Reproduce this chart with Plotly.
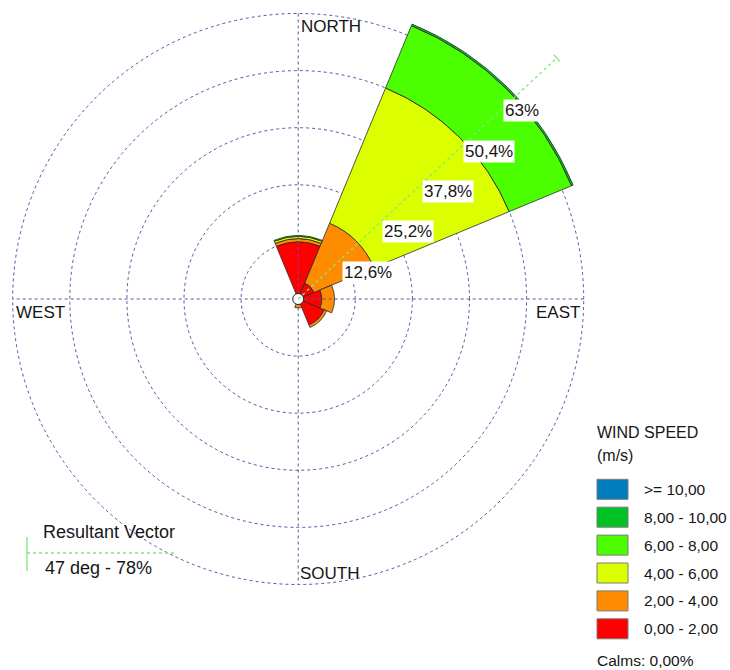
import math
import plotly.graph_objects as go

W, H = 730, 670

# ---- data ---------------------------------------------------------------
dir_names = ["N", "NE", "E", "SE", "S", "SW", "W", "NW"]
dir_angles = [0, 45, 90, 135, 180, 225, 270, 315]

speed_classes = ["0,00 - 2,00", "2,00 - 4,00", "4,00 - 6,00",
                 "6,00 - 8,00", "8,00 - 10,00", ">= 10,00"]
class_colors = ["#ff0000", "#ff8c00", "#dcff00", "#4cff00", "#00c224", "#007dbc"]

# frequency (%) of each speed class per direction
freq_0_2 = [12.6, 3.8, 5.2, 6.2, 1.2, 0, 0, 0]
freq_2_4 = [0.7, 14.3, 2.8, 0.6, 0.8, 0, 0, 0]
freq_4_6 = [0.5, 32.3, 0, 0, 0, 0, 0, 0]
freq_6_8 = [0.2, 14.9, 0, 0, 0, 0, 0, 0]
freq_8_10 = [0, 0.4, 0, 0, 0, 0, 0, 0]
freq_10_up = [0, 0, 0, 0, 0, 0, 0, 0]

ring_values = [12.6, 25.2, 37.8, 50.4, 63]
ring_labels = ["12,6%", "25,2%", "37,8%", "50,4%", "63%"]

resultant_dir = 47      # degrees
resultant_pct = 78      # %
calms_text = "Calms: 0,00%"

# ---- geometry of the rose -----------------------------------------------
R_MAX = 65.8
PX_PER_PCT = 285.5 / 63
rad_px = R_MAX * PX_PER_PCT
cx, cy = rad_px, 299.0
dom_x = [(cx - rad_px) / W, (cx + rad_px) / W]
dom_y = [1 - (cy + rad_px) / H, 1 - (cy - rad_px) / H]

FONT = "Arial, Liberation Sans, sans-serif"
TXT = "#161616"
GRID = "#5555a8"
VEC = "#7fe87f"

fig = go.Figure()

# stacked sectors, innermost speed class first
class_series = [freq_0_2, freq_2_4, freq_4_6, freq_6_8, freq_8_10, freq_10_up]
for name, color, vals in zip(speed_classes, class_colors, class_series):
    fig.add_trace(go.Barpolar(
        r=vals, theta=dir_angles, width=[45] * len(dir_angles),
        marker=dict(color=color, line=dict(color="#2a2a2a", width=0.8)),
        name=name, showlegend=False, hoverinfo="skip",
    ))

# compass cross lines
for a in (0, 90):
    fig.add_trace(go.Scatterpolar(
        r=[ring_values[-1], 0, ring_values[-1]], theta=[a, a, a + 180],
        mode="lines", line=dict(color=GRID, width=1, dash="dot"),
        showlegend=False, hoverinfo="skip",
    ))

# calm circle at the centre
fig.add_trace(go.Scatterpolar(
    r=[0], theta=[0], mode="markers",
    marker=dict(size=11, color="white", line=dict(color="#222", width=1)),
    showlegend=False, hoverinfo="skip", cliponaxis=False,
))


def polar_xy(r, deg):
    """Compass bearing/radius -> overlay x, y (north up, clockwise)."""
    return r * math.sin(math.radians(deg)), r * math.cos(math.radians(deg))


# invisible cartesian overlay sharing the rose's scale, used for labels
lab_pts = [polar_xy(v, 45) for v in ring_values]
fig.add_trace(go.Scatter(x=[p[0] for p in lab_pts], y=[p[1] for p in lab_pts],
                         mode="markers", marker=dict(opacity=0),
                         showlegend=False, hoverinfo="skip"))

shapes = []
annotations = []

# resultant vector with a short cross bar at its tip
vx, vy = polar_xy(resultant_pct, resultant_dir)
shapes.append(dict(type="line", xref="x", yref="y", x0=0, y0=0, x1=vx, y1=vy,
                   layer="above", line=dict(color=VEC, width=1.3, dash="dot")))
px_, py_ = polar_xy(1.0, resultant_dir + 90)
shapes.append(dict(type="line", xref="x", yref="y",
                   x0=vx - px_, y0=vy - py_, x1=vx + px_, y1=vy + py_,
                   layer="above", line=dict(color=VEC, width=1.3)))

for (x, y), t in zip(lab_pts, ring_labels):
    annotations.append(dict(x=x, y=y, xref="x", yref="y", text=t,
                            showarrow=False, xanchor="left", yanchor="top",
                            xshift=3, yshift=-2, bgcolor="white", borderpad=1,
                            font=dict(family=FONT, size=17, color=TXT)))

outer = ring_values[-1]
compass = [
    ("NORTH", 0, outer, "left", "top", 1, -1),
    ("SOUTH", 0, -outer, "left", "bottom", 0, 0),
    ("WEST", -outer, 0, "left", "top", 1, -2),
    ("EAST", outer, 0, "right", "top", -2, -2),
]
for t, x, y, xa, ya, xs, ys in compass:
    annotations.append(dict(x=x, y=y, xref="x", yref="y", text=t,
                            showarrow=False, xanchor=xa, yanchor=ya,
                            xshift=xs, yshift=ys,
                            font=dict(family=FONT, size=17, color=TXT)))


def px(x):
    return x / W


def py(y):
    return 1 - y / H


# wind speed key
annotations.append(dict(x=px(595), y=py(433), xref="paper", yref="paper",
                        text="WIND SPEED", showarrow=False, xanchor="left",
                        yanchor="middle",
                        font=dict(family=FONT, size=16, color=TXT)))
annotations.append(dict(x=px(595), y=py(455), xref="paper", yref="paper",
                        text="(m/s)", showarrow=False, xanchor="left",
                        yanchor="middle",
                        font=dict(family=FONT, size=16, color=TXT)))

box_top0, box_step, box_h = 479.3, 27.9, 20
for i, (name, color) in enumerate(zip(reversed(speed_classes),
                                      reversed(class_colors))):
    top = box_top0 + i * box_step
    shapes.append(dict(type="rect", xref="paper", yref="paper",
                       x0=px(597), x1=px(628), y0=py(top + box_h), y1=py(top),
                       fillcolor=color, line=dict(color="#7a7a7a", width=1)))
    annotations.append(dict(x=px(642), y=py(top + box_h / 2), xref="paper",
                            yref="paper", text=name, showarrow=False,
                            xanchor="left", yanchor="middle",
                            font=dict(family=FONT, size=15.5, color=TXT)))

annotations.append(dict(x=px(595), y=py(660), xref="paper", yref="paper",
                        text=calms_text, showarrow=False, xanchor="left",
                        yanchor="middle",
                        font=dict(family=FONT, size=15.5, color=TXT)))

# resultant vector key
shapes.append(dict(type="line", xref="paper", yref="paper",
                   x0=px(27), x1=px(27), y0=py(537), y1=py(571),
                   line=dict(color=VEC, width=1.3)))
shapes.append(dict(type="line", xref="paper", yref="paper",
                   x0=px(27), x1=px(174), y0=py(553), y1=py(553),
                   line=dict(color=VEC, width=1.3, dash="dot")))
annotations.append(dict(x=px(41), y=py(532), xref="paper", yref="paper",
                        text="Resultant Vector", showarrow=False,
                        xanchor="left", yanchor="middle",
                        font=dict(family=FONT, size=18, color=TXT)))
annotations.append(dict(x=px(43), y=py(568), xref="paper", yref="paper",
                        text=f"{resultant_dir} deg - {resultant_pct}%",
                        showarrow=False, xanchor="left", yanchor="middle",
                        font=dict(family=FONT, size=18, color=TXT)))

fig.update_layout(
    width=W, height=H,
    margin=dict(l=0, r=0, t=0, b=0),
    paper_bgcolor="white", plot_bgcolor="rgba(0,0,0,0)",
    showlegend=False,
    polar=dict(
        domain=dict(x=dom_x, y=dom_y),
        bgcolor="rgba(0,0,0,0)",
        barmode="stack",
        radialaxis=dict(range=[0, R_MAX], tickvals=ring_values,
                        showticklabels=False, ticks="", showline=False,
                        gridcolor=GRID, gridwidth=1, griddash="dot"),
        angularaxis=dict(rotation=90, direction="clockwise",
                         showgrid=False, showticklabels=False, ticks="",
                         showline=False),
    ),
    xaxis=dict(domain=dom_x, range=[-R_MAX, R_MAX], visible=False,
               fixedrange=True),
    yaxis=dict(domain=dom_y, range=[-R_MAX, R_MAX], visible=False,
               fixedrange=True),
    annotations=annotations,
    shapes=shapes,
)

fig.write_html("out.html")
